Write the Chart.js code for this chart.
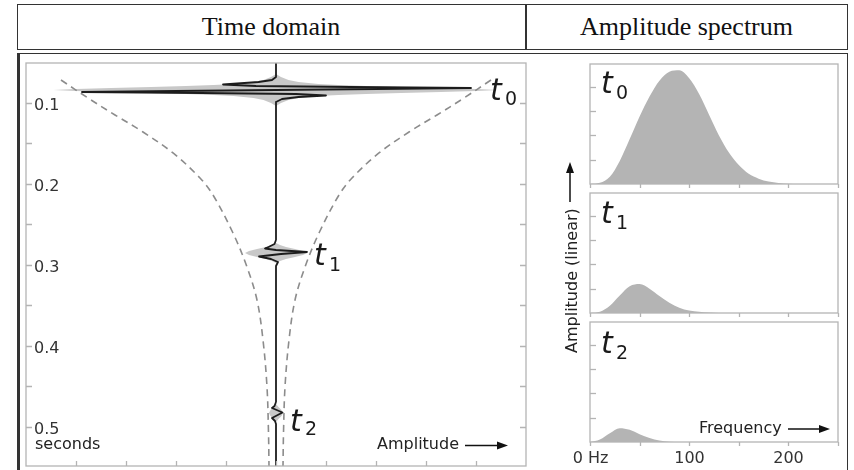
<!DOCTYPE html>
<html>
<head>
<meta charset="utf-8">
<script src="https://cdn.jsdelivr.net/npm/chart.js@4.4.1/dist/chart.umd.min.js"></script>
<style>
html,body{margin:0;padding:0;background:#fff;}
#wrap{position:relative;width:854px;height:470px;overflow:hidden;background:#fff;font-family:'DejaVu Sans',sans-serif;}
canvas{position:absolute;left:0;top:0;}
.box{position:absolute;box-sizing:border-box;}
.abs{position:absolute;white-space:nowrap;line-height:1;color:#222;}
.hdrtxt{position:absolute;top:4px;height:45px;display:flex;align-items:center;justify-content:center;font-family:'Liberation Serif','Times New Roman',serif;font-size:26px;color:#111;}
.tl{font-size:30px;font-style:italic;color:#1a1a1a;}
.sb{font-size:19px;color:#1a1a1a;}
</style>
</head>
<body>
<div id="wrap">
  <div class="box" style="left:17px;top:4px;width:831px;height:46px;border:1.5px solid #333;"></div>
  <div class="box" style="left:525px;top:4px;width:1.5px;height:46px;background:#333;"></div>
  <div class="hdrtxt" style="left:17px;width:508px;">Time domain</div>
  <div class="hdrtxt" style="left:525px;width:323px;">Amplitude spectrum</div>
  <div class="box" style="left:17px;top:53px;width:831px;height:440px;border:1.5px solid #333;border-left:3px solid #333;"></div>

  <canvas id="cTime" width="854" height="470"></canvas>
  <canvas id="cS0" width="854" height="470"></canvas>
  <canvas id="cS1" width="854" height="470"></canvas>
  <canvas id="cS2" width="854" height="470"></canvas>

  <!-- left annotations -->
  <div class="abs tl" style="left:490px;top:75px;">t</div>
  <div class="abs sb" style="left:505px;top:89px;">0</div>
  <div class="abs tl" style="left:314px;top:240px;">t</div>
  <div class="abs sb" style="left:329px;top:255px;">1</div>
  <div class="abs tl" style="left:290px;top:406px;">t</div>
  <div class="abs sb" style="left:305px;top:419px;">2</div>
  <div class="abs" style="left:35px;top:436px;font-size:16px;">seconds</div>
  <div class="abs" style="left:377px;top:436px;font-size:16px;">Amplitude</div>

  <!-- right annotations -->
  <div class="abs tl" style="left:601px;top:68px;">t</div>
  <div class="abs sb" style="left:616px;top:83px;">0</div>
  <div class="abs tl" style="left:601px;top:198px;">t</div>
  <div class="abs sb" style="left:616px;top:213px;">1</div>
  <div class="abs tl" style="left:601px;top:328px;">t</div>
  <div class="abs sb" style="left:616px;top:343px;">2</div>
  <div class="abs" style="left:699px;top:420px;font-size:16px;">Frequency</div>
  <div class="abs" style="left:563.5px;top:353px;font-size:16px;transform-origin:0 0;transform:rotate(-90deg);">Amplitude (linear)</div>

  <svg width="854" height="470" style="position:absolute;left:0;top:0;" xmlns="http://www.w3.org/2000/svg">
    <g stroke="#111" stroke-width="1.5" fill="#111">
      <line x1="465" y1="445.5" x2="500" y2="445.5"/>
      <polygon points="497,441.5 508,445.5 497,449.5" stroke="none"/>
      <line x1="788" y1="429" x2="822" y2="429"/>
      <polygon points="819,425 830,429 819,433" stroke="none"/>
      <line x1="570" y1="202" x2="570" y2="170"/>
      <polygon points="566,173 570,162 574,173" stroke="none"/>
    </g>
  </svg>
</div>

<script>
// ---------------- DATA ----------------
// Time-domain axis ticks
const timeTickValues = [0.1, 0.15, 0.2, 0.25, 0.3, 0.35, 0.4, 0.45, 0.5];
const timeTickLabels = ['0.1', '', '0.2', '', '0.3', '', '0.4', '', '0.5'];
const ampTickValues = [-4, -3, -2, -1, 0, 1, 2, 3, 4];

// Black seismic trace (time in s, amplitude)
const traceTime = [0.0506, 0.0679, 0.0716, 0.07407, 0.07716, 0.07901, 0.08025, 0.08148, 0.08272, 0.08395,
  0.08519, 0.08642, 0.08765, 0.08889, 0.09074, 0.09259, 0.09506, 0.09877,
  0.26914, 0.27407, 0.27778, 0.27963, 0.28148, 0.28395, 0.28642, 0.28951, 0.29259, 0.29630, 0.30123,
  0.46914, 0.47407, 0.47654, 0.48210, 0.48889, 0.49259, 0.49630, 0.5482];
const traceAmp = [0, 0, -0.08, -0.35, -1.06, -0.4, 1.5, 3.9, 2.0, 0,
  -2.0, -3.88, -1.5, 0.4, 1.0, 0.45, 0.12, 0,
  0, -0.03, -0.15, -0.22, 0.0, 0.62, 0.1, -0.34, -0.1, 0.04, 0,
  0, -0.03, -0.08, 0.13, -0.08, -0.02, 0, 0];

// Grey envelopes around each wavelet
const env0Time = [0.06420, 0.06790, 0.07160, 0.07407, 0.07654, 0.07778, 0.07901, 0.08025, 0.08148, 0.08272, 0.08395,
  0.08519, 0.08642, 0.08765, 0.08889, 0.09012, 0.09136, 0.09383, 0.09630, 0.10000, 0.10370];
const env0Amp = [0, 0.1, 0.25, 0.45, 0.85, 1.25, 1.8, 2.5, 3.3, 4.0, 4.45,
  4.0, 3.3, 2.5, 1.8, 1.25, 0.85, 0.45, 0.25, 0.1, 0];
const env1Time = [0.27284, 0.27531, 0.27778, 0.28025, 0.28272, 0.28519, 0.28765, 0.29012, 0.29259, 0.29506, 0.29753];
const env1Amp = [0, 0.08, 0.2, 0.38, 0.54, 0.62, 0.54, 0.38, 0.2, 0.08, 0];
const env2Time = [0.47160, 0.47531, 0.47901, 0.48272, 0.48642, 0.49012, 0.49383];
const env2Amp = [0, 0.05, 0.11, 0.14, 0.11, 0.05, 0];

// Dashed decay curve (mirrored about zero)
const dashTime = [0.0716, 0.09383, 0.11481, 0.13580, 0.16173, 0.19259, 0.21358, 0.26049, 0.30247, 0.34321, 0.39259, 0.45062, 0.50741, 0.54815];
const dashAmp = [4.3, 3.76, 3.22, 2.66, 2.06, 1.52, 1.26, 0.86, 0.58, 0.38, 0.26, 0.18, 0.15, 0.14];

// Amplitude spectra
const freqHz = [0, 10, 20, 30, 40, 50, 60, 70, 80, 90, 100, 110, 120, 130, 140, 150, 160, 170, 180, 190, 200, 210, 220, 230, 240, 250];
const spec0 = [0, 0.05, 0.3, 0.95, 1.85, 2.78, 3.6, 4.25, 4.62, 4.68, 4.35, 3.7, 2.85, 2.0, 1.3, 0.78, 0.42, 0.22, 0.1, 0.04, 0.015, 0.005, 0, 0, 0, 0];
const spec1 = [0, 0.05, 0.3, 0.72, 1.1, 1.19, 1.0, 0.7, 0.42, 0.22, 0.1, 0.05, 0.02, 0.005, 0, 0, 0, 0, 0, 0, 0, 0, 0, 0, 0, 0];
const spec2 = [0, 0.1, 0.36, 0.57, 0.5, 0.32, 0.16, 0.06, 0.01, 0, 0, 0, 0, 0, 0, 0, 0, 0, 0, 0, 0, 0, 0, 0, 0, 0];
const freqTickValues = [0, 50, 100, 150, 200, 250];
const freqTickLabels = ['0 Hz', '', '100', '', '200', ''];
const specTickValues = [1, 2, 3, 4];

// ---------------- DRAWING ----------------
const W = 854, H = 470;
const FRAME = '#b4b4b4';

const frameTicks = {
  id: 'frameTicks',
  afterDraw(chart, args, o) {
    const {ctx, chartArea: a, scales} = chart;
    ctx.save();
    ctx.strokeStyle = FRAME;
    ctx.lineWidth = 1.3;
    ctx.strokeRect(a.left, a.top, a.right - a.left, a.bottom - a.top);
    ctx.font = '16px "DejaVu Sans"';
    ctx.fillStyle = '#333';
    ctx.textBaseline = 'alphabetic';
    const yt = o.yTicks || [];
    yt.forEach((v, i) => {
      const py = Math.round(scales.y.getPixelForValue(v)) + 0.5;
      ctx.beginPath();
      ctx.moveTo(a.left, py); ctx.lineTo(a.left + 6, py);
      if (o.yRight) { ctx.moveTo(a.right, py); ctx.lineTo(a.right - 6, py); }
      ctx.stroke();
      const lab = o.yLabels ? o.yLabels[i] : '';
      if (lab) { ctx.textAlign = 'left'; ctx.fillText(lab, a.left + 8, py + 6); }
    });
    const xt = o.xTicks || [];
    xt.forEach((v, i) => {
      const px = Math.round(scales.x.getPixelForValue(v)) + 0.5;
      ctx.beginPath();
      if (o.xInside) { ctx.moveTo(px, a.bottom); ctx.lineTo(px, a.bottom - 5); }
      else { ctx.moveTo(px, a.bottom); ctx.lineTo(px, a.bottom + 4); }
      ctx.stroke();
      const lab = o.xLabels ? o.xLabels[i] : '';
      if (lab) { ctx.textAlign = 'center'; ctx.fillText(lab, px, a.bottom + 21); }
    });
    ctx.restore();
  }
};

function envPolygon(times, amps) {
  const right = times.map((t, i) => ({x: amps[i], y: t}));
  const left = times.map((t, i) => ({x: -amps[i], y: t})).reverse();
  return right.concat(left);
}
function pts(xs, ys) { return xs.map((x, i) => ({x: x, y: ys[i]})); }

const envStyle = {showLine: true, pointRadius: 0, borderWidth: 0, backgroundColor: '#c8c8c8', fill: 'shape', tension: 0};
const dashStyle = {showLine: true, pointRadius: 0, borderWidth: 1.6, borderColor: '#8c8c8c', borderDash: [7, 5], tension: 0.35, fill: false};

// dataset 0 is drawn on top, so the trace comes first
new Chart(document.getElementById('cTime'), {
  type: 'scatter',
  data: {
    datasets: [
      {data: pts(traceAmp, traceTime), showLine: true, pointRadius: 0, borderWidth: 1.8, borderColor: '#1c1c1c',
       borderJoinStyle: 'round', tension: 0, fill: false},
      Object.assign({data: pts(dashAmp.map(a => -a), dashTime)}, dashStyle),
      Object.assign({data: pts(dashAmp, dashTime)}, dashStyle),
      Object.assign({data: envPolygon(env0Time, env0Amp)}, envStyle),
      Object.assign({data: envPolygon(env1Time, env1Amp)}, envStyle),
      Object.assign({data: envPolygon(env2Time, env2Amp)}, envStyle)
    ]
  },
  options: {
    responsive: false, animation: false, events: [],
    layout: {padding: {left: 26, top: 63, right: W - 526, bottom: H - 466}},
    scales: {
      x: {type: 'linear', display: false, min: -5, max: 5},
      y: {type: 'linear', display: false, min: 0.05062, max: 0.54815, reverse: true}
    },
    plugins: {
      legend: {display: false}, tooltip: {enabled: false},
      frameTicks: {yTicks: timeTickValues, yLabels: timeTickLabels, yRight: true, xTicks: ampTickValues, xInside: true}
    }
  },
  plugins: [frameTicks]
});

function spectrum(id, values, top, bottom, withLabels) {
  new Chart(document.getElementById(id), {
    type: 'scatter',
    data: {datasets: [{data: pts(freqHz, values), showLine: true, pointRadius: 0, borderWidth: 0,
      backgroundColor: '#b4b4b4', fill: 'origin', tension: 0.4, cubicInterpolationMode: 'monotone'}]},
    options: {
      responsive: false, animation: false, events: [],
      layout: {padding: {left: 590, top: top, right: W - 838, bottom: H - bottom}},
      scales: {
        x: {type: 'linear', display: false, min: 0, max: 250},
        y: {type: 'linear', display: false, min: 0, max: 4.94}
      },
      plugins: {
        legend: {display: false}, tooltip: {enabled: false},
        frameTicks: {yTicks: specTickValues, xTicks: freqTickValues, xInside: false,
          xLabels: withLabels ? freqTickLabels : null}
      }
    },
    plugins: [frameTicks]
  });
}
spectrum('cS0', spec0, 64, 184, false);
spectrum('cS1', spec1, 193, 313, false);
spectrum('cS2', spec2, 322, 442, true);
</script>
</body>
</html>
